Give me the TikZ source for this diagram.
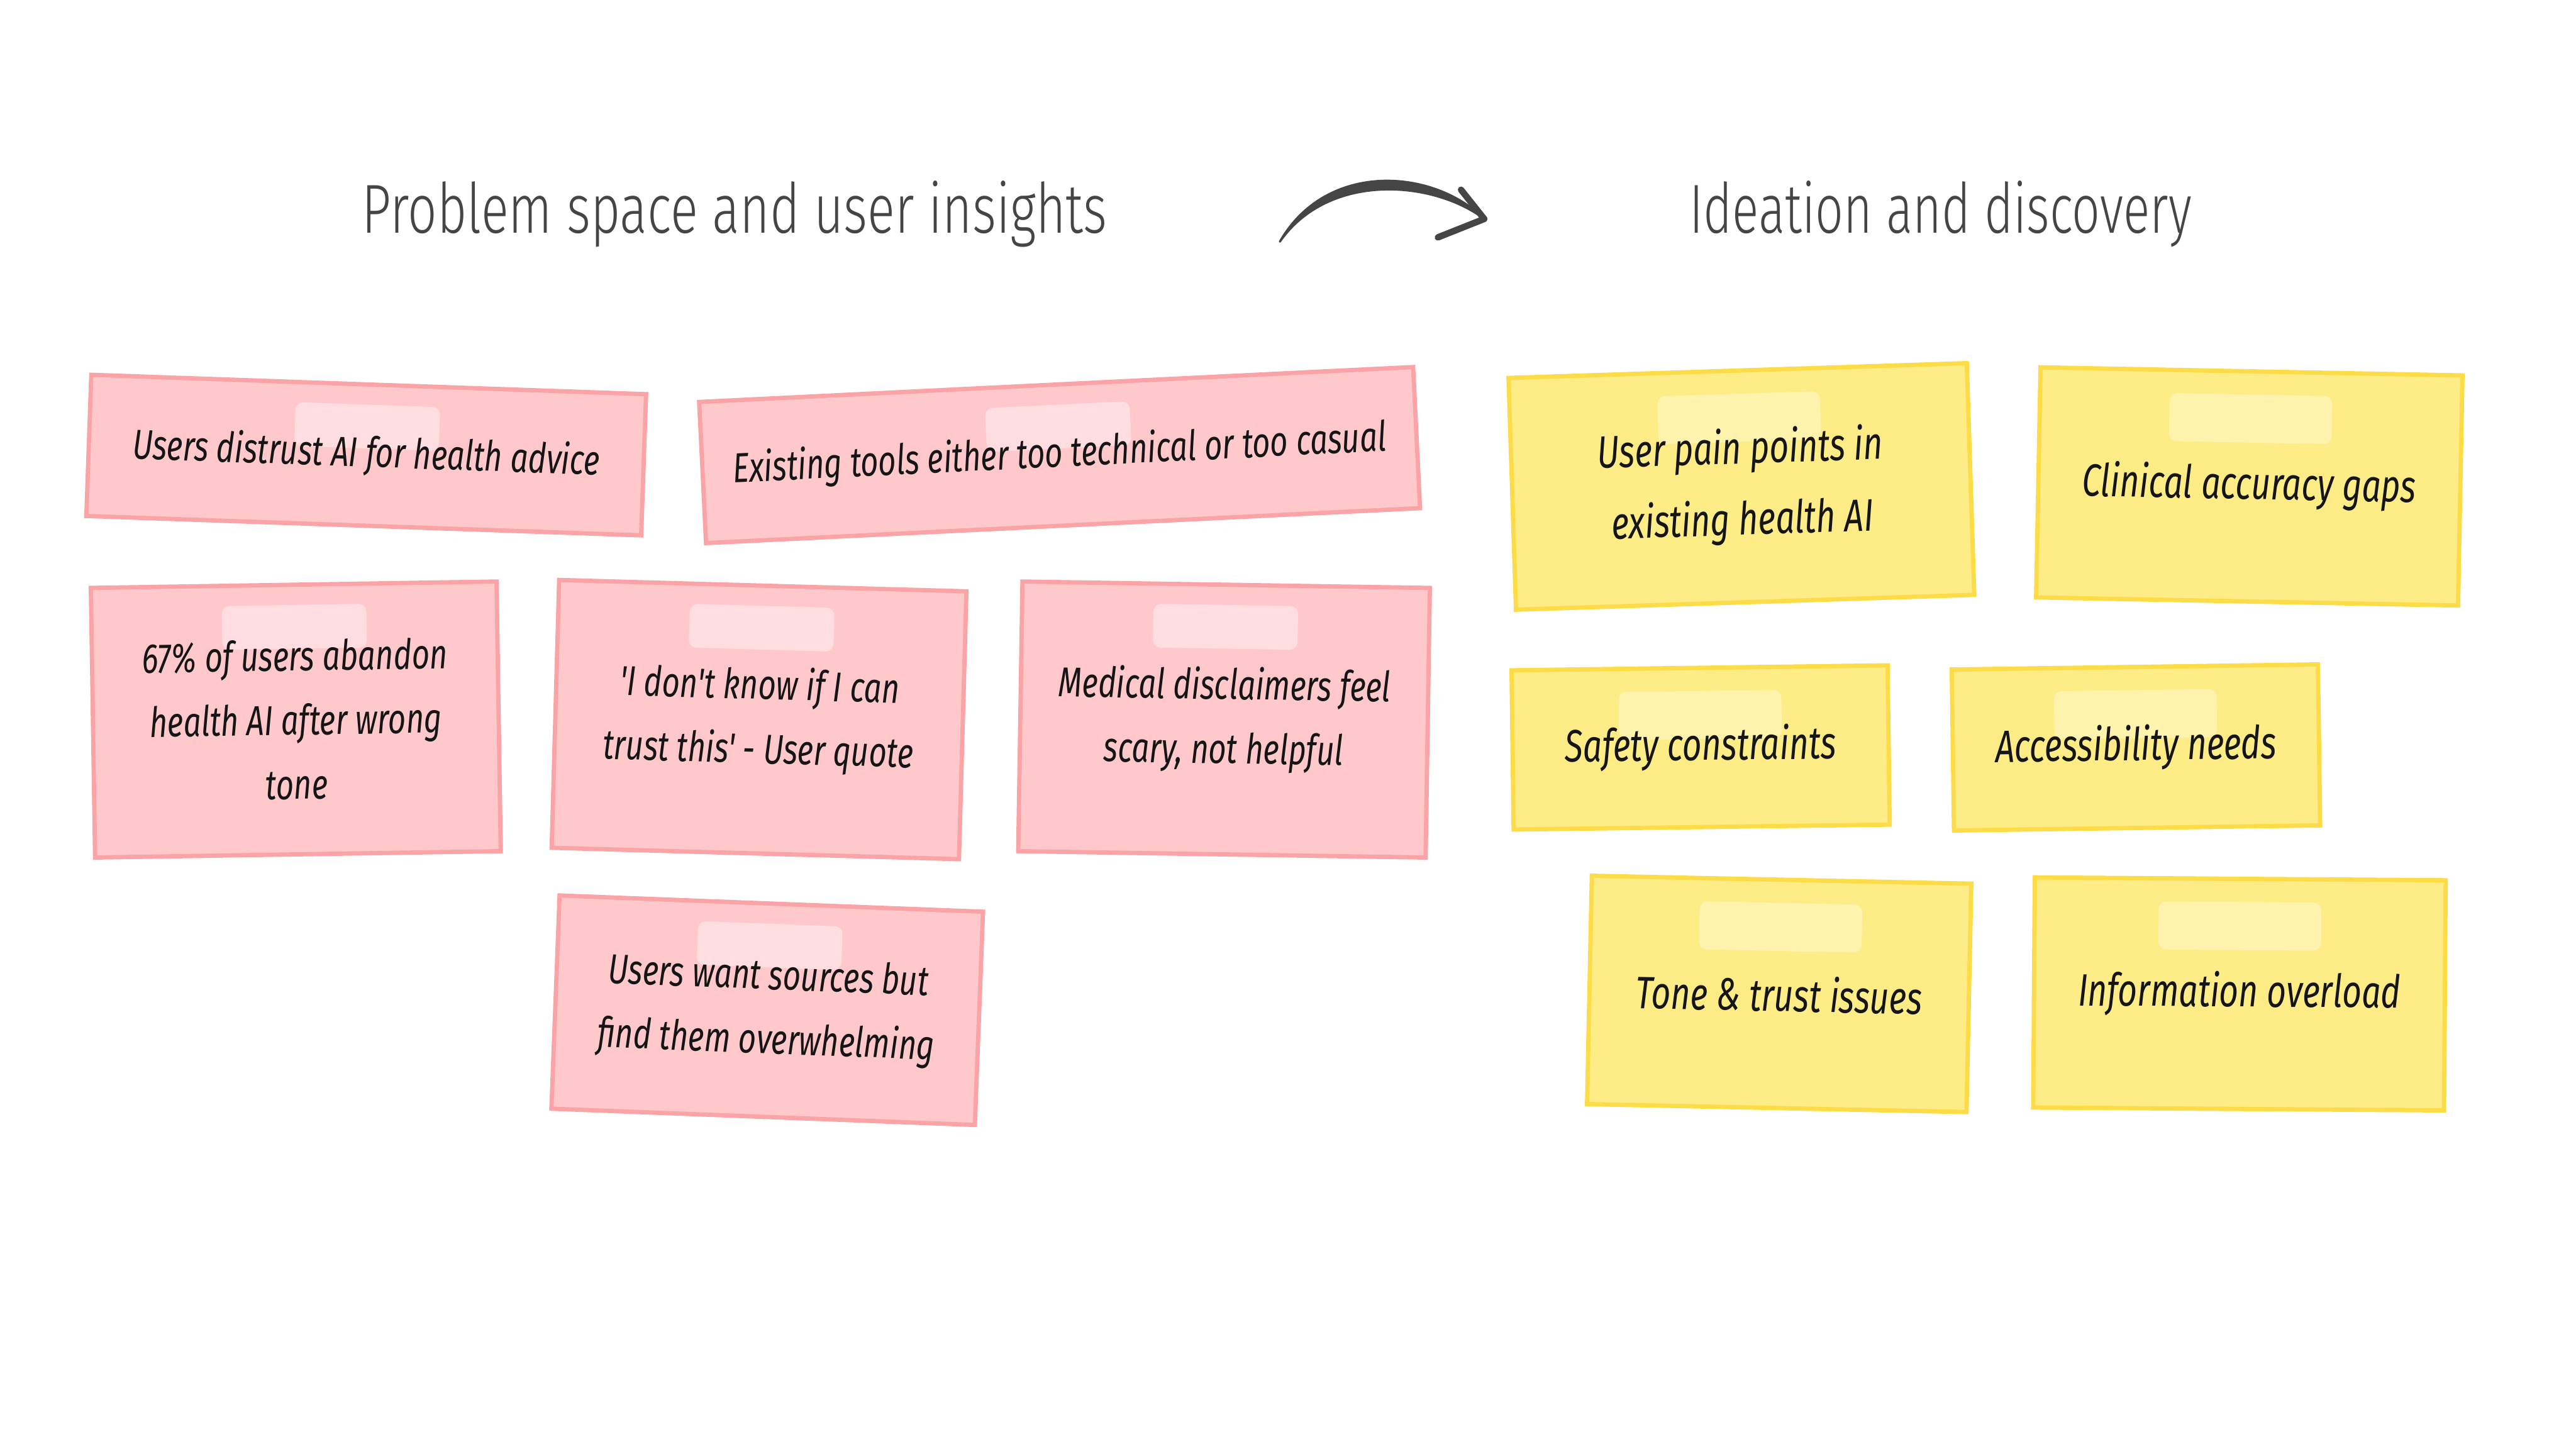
\documentclass[tikz,border=0pt]{standalone}
\usepackage{fontspec}
\usepackage{graphicx}
\setmainfont{Fira Sans}
\newfontfamily\notefont{Fira Sans}
\newfontfamily\titlefont{Fira Sans Light}
\usetikzlibrary{calc}
\definecolor{pinkfill}{HTML}{FFC9CB}
\definecolor{pinkline}{HTML}{FBA4A7}
\definecolor{pinktape}{HTML}{FFDDE0}
\definecolor{yellowfill}{HTML}{FEEC87}
\definecolor{yellowline}{HTML}{FDDC48}
\definecolor{yellowtape}{HTML}{FFF3AD}
\definecolor{inkgray}{HTML}{454545}
\definecolor{notetextcol}{HTML}{151515}
\tikzset{
  pinknote/.style={draw=pinkline, fill=pinkfill, line width=0.1cm, inner sep=0pt, rectangle},
  yellownote/.style={draw=yellowline, fill=yellowfill, line width=0.1cm, inner sep=0pt, rectangle},
  pinktape/.style={fill=pinktape, rounded corners=0.18cm, minimum width=3.37cm, minimum height=1.02cm, inner sep=0pt},
  yellowtape/.style={fill=yellowtape, rounded corners=0.18cm, minimum width=3.79cm, minimum height=1.12cm, inner sep=0pt},
  pinktext/.style={font=\notefont\itshape\fontsize{20.5}{31.5}\selectfont, align=center, text=notetextcol, yscale=1.35, inner sep=0pt},
  yellowtext/.style={font=\notefont\itshape\fontsize{22.3}{35}\selectfont, align=center, text=notetextcol, yscale=1.35, inner sep=0pt},
  titletext/.style={font=\titlefont\fontsize{34}{40}\selectfont, text=inkgray, inner sep=0pt, anchor=base},
  flowarrow/.style={draw=inkgray, line width=0.15cm, line cap=round},
  arrowbody/.style={fill=inkgray, draw=inkgray, line width=0.05cm, line join=round}
}
% name, x, y, rotation, width, height, kind, tape offset, text
\newcommand{\snote}[9]{%
  \begin{scope}[shift={(#2,#3)},rotate=#4,transform shape]
    \node[#7note, minimum width=#5cm, minimum height=#6cm] (#1) at (0,0) {};
    \node[#7tape] (#1tape) at (0,{#6/2-#8}) {};
    \node[#7text] (#1text) at (0,0) {#9};
  \end{scope}}
\begin{document}
\begin{tikzpicture}
\useasboundingbox (0,0) rectangle (60,33.75);
\fill[white] (0,0) rectangle (60,33.75);

% titles
\node[titletext] (titleA) at (17.11,28.32) {\scalebox{1}[1.35]{Problem space and user insights}};
\node[titletext, font=\titlefont\fontsize{32.8}{40}\selectfont] (titleB) at (45.20,28.32) {\scalebox{1}[1.4]{Ideation and discovery}};

% arrow
\coordinate (arrS) at (29.81,28.12);
\coordinate (arrE) at (34.57,28.65);
\path[arrowbody] (arrS) .. controls (30.9,30.02) and (33.4,29.82) .. (arrE)
   .. controls (33.38,29.55) and (30.95,29.75) .. (arrS) -- cycle;
\draw[flowarrow] (arrE) -- ++(-0.54,0.68);
\draw[flowarrow] (arrE) -- ++(-1.08,-0.43);

% pink notes
\snote{p1}{8.53}{23.15}{-2}{12.93}{3.29}{pink}{0.98}{Users distrust AI for health advice}
\snote{p2}{24.68}{23.15}{2.8}{16.65}{3.29}{pink}{0.98}{Existing tools either too technical or too casual}
\snote{p3}{6.89}{16.99}{0.9}{9.45}{6.28}{pink}{0.98}{67\% of users abandon\\health AI after wrong\\tone}
\snote{p4}{17.68}{16.99}{-1.6}{9.49}{6.24}{pink}{0.98}{'I don't know if I can\\trust this' - User quote}
\snote{p5}{28.51}{16.99}{-0.9}{9.49}{6.28}{pink}{0.98}{Medical disclaimers feel\\scary, not helpful}
\snote{p6}{17.87}{10.22}{-2.2}{9.87}{4.97}{pink}{0.98}{Users want sources but\\find them overwhelming}

% yellow notes
\snote{y1}{40.56}{22.42}{1.85}{10.68}{5.40}{yellow}{1.10}{User pain points in\\existing health AI}
\snote{y2}{52.39}{22.42}{-1.1}{9.83}{5.36}{yellow}{1.10}{Clinical accuracy gaps}
\snote{y3}{39.61}{16.34}{0.75}{8.76}{3.71}{yellow}{1.10}{Safety constraints}
\snote{y4}{49.75}{16.34}{0.8}{8.53}{3.75}{yellow}{1.10}{Accessibility needs}
\snote{y5}{41.44}{10.60}{-1.2}{8.84}{5.32}{yellow}{1.10}{Tone \& trust issues}
\snote{y6}{52.16}{10.60}{-0.4}{9.57}{5.36}{yellow}{1.10}{Information overload}
\end{tikzpicture}
\end{document}
